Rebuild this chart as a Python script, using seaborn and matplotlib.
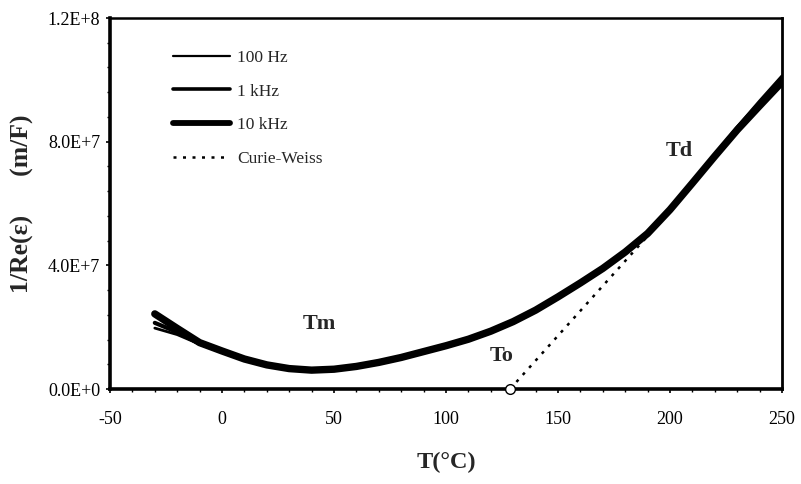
import numpy as np
import pandas as pd
import matplotlib
matplotlib.use("Agg")
import matplotlib.pyplot as plt
from matplotlib.ticker import MultipleLocator
from matplotlib.lines import Line2D
import seaborn as sns

# ---- data ----
temps = [-30, -20, -10, 0, 10, 20, 30, 40, 50, 60, 70, 80, 90, 100, 110, 120,
         130, 140, 150, 160, 170, 180, 190, 200, 210, 220, 230, 240, 250]
inv_eps_10k = [24.3e6, 19.6e6, 15.0e6, 12.3e6, 9.7e6, 7.8e6, 6.6e6, 6.1e6, 6.4e6,
               7.3e6, 8.6e6, 10.2e6, 12.1e6, 14.0e6, 16.1e6, 18.7e6, 21.8e6,
               25.5e6, 29.8e6, 34.3e6, 39.0e6, 44.3e6, 50.3e6, 58.0e6, 66.6e6,
               75.3e6, 83.8e6, 91.6e6, 99.3e6]
inv_eps_1k = [21.4e6, 18.4e6, 14.7e6, 12.1e6, 9.6e6, 7.7e6, 6.5e6, 6.0e6, 6.3e6,
              7.2e6, 8.5e6, 10.1e6, 12.0e6, 13.9e6, 16.0e6, 18.6e6, 21.7e6,
              25.4e6, 29.7e6, 34.2e6, 38.9e6, 44.2e6, 50.2e6, 58.0e6, 66.7e6,
              75.5e6, 84.3e6, 92.4e6, 100.3e6]
inv_eps_100 = [19.7e6, 17.6e6, 14.5e6, 12.0e6, 9.5e6, 7.6e6, 6.4e6, 5.9e6, 6.2e6,
               7.1e6, 8.4e6, 10.0e6, 11.9e6, 13.8e6, 15.9e6, 18.5e6, 21.6e6,
               25.3e6, 29.6e6, 34.1e6, 38.8e6, 44.1e6, 50.1e6, 58.0e6, 66.8e6,
               75.7e6, 84.8e6, 93.2e6, 101.3e6]
cw_T = [128.6, 195.0]
cw_val = [0.0, 53.5e6]
series_labels = ["100 Hz", "1 kHz", "10 kHz", "Curie-Weiss"]
x_ticks = [-50, 0, 50, 100, 150, 200, 250]
y_ticks = [0, 4e7, 8e7, 1.2e8]
y_tick_labels = ["0.0E+0", "4.0E+7", "8.0E+7", "1.2E+8"]
annotations = [("Tm", 43.5, 2.1e7), ("To", 125, 1.07e7), ("Td", 204, 7.7e7)]

sns.set_style("ticks")
plt.rcParams["font.family"] = ["Liberation Serif", "DejaVu Serif"]

fig = plt.figure(figsize=(8.01, 4.84), dpi=100)
ax = fig.add_axes([110 / 801, 1 - 389 / 484, 672 / 801, 371 / 484])

df = pd.DataFrame({"T": temps * 3,
                   "v": inv_eps_100 + inv_eps_1k + inv_eps_10k,
                   "s": [series_labels[0]] * len(temps) + [series_labels[1]] * len(temps)
                        + [series_labels[2]] * len(temps)})
widths = {series_labels[0]: 2.0, series_labels[1]: 3.0, series_labels[2]: 5.3}
for lab in series_labels[2::-1]:
    sub = df[df["s"] == lab]
    sns.lineplot(data=sub, x="T", y="v", ax=ax, color="black", lw=widths[lab],
                 estimator=None, sort=True, legend=False)

cw = pd.DataFrame({"T": cw_T, "v": cw_val})
sns.lineplot(data=cw, x="T", y="v", ax=ax, color="black", lw=1.8,
             linestyle=(0, (1.2, 2.6)), estimator=None, legend=False)
ax.plot([cw_T[0]], [cw_val[0]], marker="o", ms=7, mfc="white", mec="black",
        mew=1.0, clip_on=False, zorder=5)

ax.set_xlim(-50, 250)
ax.set_ylim(0, 1.2e8)
ax.set_xticks(x_ticks)
ax.set_xticklabels([str(t) for t in x_ticks])
ax.set_yticks(y_ticks)
ax.set_yticklabels(y_tick_labels)
ax.xaxis.set_minor_locator(MultipleLocator(10))
ax.yaxis.set_minor_locator(MultipleLocator(8e6))
ax.tick_params(axis="both", which="major", direction="out", length=3, width=1.2,
               labelsize=13, color="black", labelcolor="black")
ax.tick_params(axis="x", which="major", pad=13)
ax.tick_params(axis="y", which="major", pad=4)
ax.tick_params(axis="both", which="minor", direction="out", length=2.5, width=1.0,
               color="black")
for side in ["left", "bottom", "top", "right"]:
    ax.spines[side].set_visible(True)
    ax.spines[side].set_color("black")
ax.spines["left"].set_linewidth(2.6)
ax.spines["bottom"].set_linewidth(2.6)
ax.spines["top"].set_linewidth(1.8)
ax.spines["right"].set_linewidth(2.0)

ax.set_xlabel("T(°C)", fontsize=17.5, fontweight="bold", labelpad=17)
ax.set_ylabel("1/Re(ε)      (m/F)", fontsize=18.5, fontweight="bold", labelpad=10)

for txt, xx, yy in annotations:
    ax.text(xx, yy, txt, fontsize=16, fontweight="bold", ha="center", va="center")

handles = [Line2D([], [], color="black", lw=1.6),
           Line2D([], [], color="black", lw=2.6),
           Line2D([], [], color="black", lw=4.2),
           Line2D([], [], color="black", lw=1.8, linestyle=(0, (1.2, 2.6)))]
ax.legend(handles, series_labels, loc="upper left", bbox_to_anchor=(0.094, 0.914),
          frameon=False, fontsize=12.5, handlelength=3.3, handletextpad=0.4,
          labelspacing=1.0, borderpad=0, borderaxespad=0)

fig.savefig("out.png", dpi=100)
